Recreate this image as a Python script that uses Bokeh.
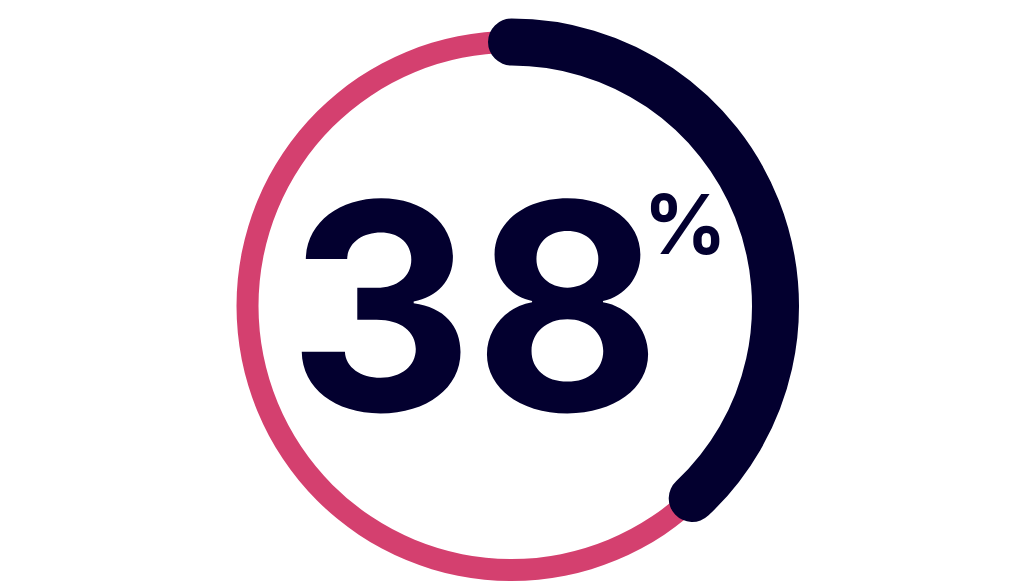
import math
from bokeh.plotting import figure
from bokeh.models import Range1d
from bokeh.core.properties import value
from bokeh.embed import file_html
from bokeh.resources import INLINE

# Data
percent_value = [38]
value_labels = ["38"]
unit_labels = ["%"]

# Layout: data units are screen pixels, y measured up from the bottom of the window
W, H = 1018, 582
cx, cy = [511], [582 - 305.5]
ring_r = 264
track_width = 22
bar_width = 47

PINK = "#D4406F"
NAVY = "#03002F"

p = figure(width=W, height=H, output_backend="svg", toolbar_location=None,
           x_range=Range1d(0, W), y_range=Range1d(582 - H, 582),
           min_border=0, outline_line_color=None)
p.axis.visible = False
p.grid.visible = False
p.background_fill_color = "white"
p.border_fill_color = "white"

# full track ring
p.annulus(x=cx, y=cy, inner_radius=ring_r - track_width / 2,
          outer_radius=ring_r + track_width / 2,
          fill_color=PINK, line_color=None)

# progress arc (clockwise from 12 o'clock)
frac = percent_value[0] / 100.0
start = math.pi / 2
end = math.pi / 2 - frac * 2 * math.pi
p.arc(x=cx, y=cy, radius=ring_r, start_angle=end, end_angle=start,
      direction="anticlock", line_width=bar_width, line_color=NAVY,
      line_cap="round")

# central labels (baseline compensated for svg text placement)
big, small = 288, 82
p.text(x=[474], y=[582 - 408 + 0.36 * big], text=value_labels, text_align="center",
       text_baseline="alphabetic", text_font=value("Inter"),
       text_font_style="bold", text_font_size=value(f"{big}px"), text_color=NAVY)
p.text(x=[643], y=[582 - 254 + 0.36 * small], text=unit_labels, text_align="left",
       text_baseline="alphabetic", text_font=value("Inter"),
       text_font_style="bold", text_font_size=value(f"{small}px"), text_color=NAVY)

open("out.html", "w").write(file_html(p, INLINE))
